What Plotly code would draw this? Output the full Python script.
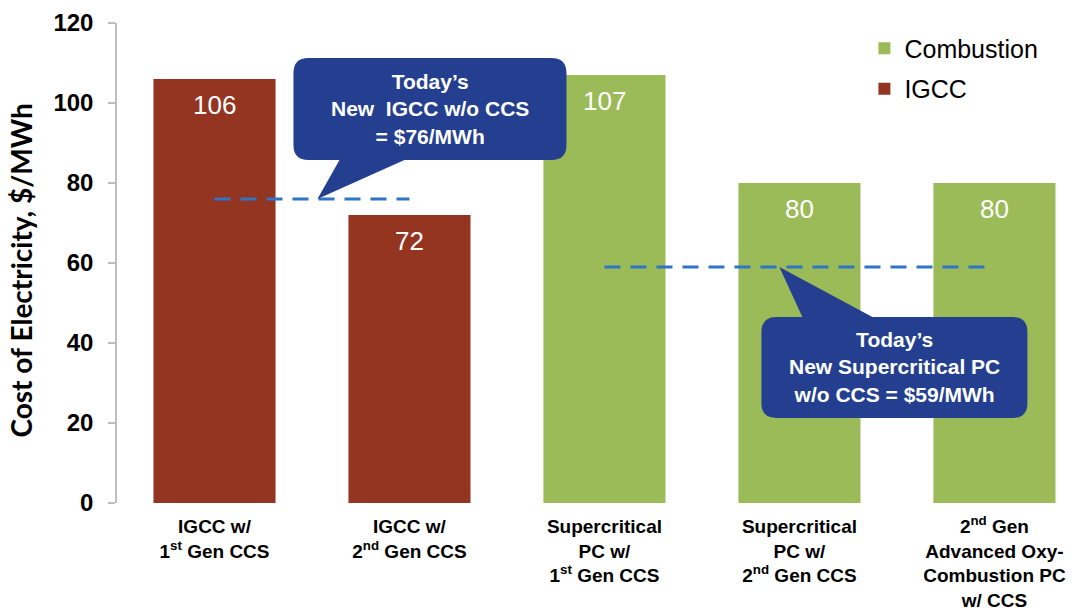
import plotly.graph_objects as go

# Cost of electricity by technology ($/MWh)
categories = [
    "IGCC w/<br>1<sup>st</sup> Gen CCS",
    "IGCC w/<br>2<sup>nd</sup> Gen CCS",
    "Supercritical<br>PC w/<br>1<sup>st</sup> Gen CCS",
    "Supercritical<br>PC w/<br>2<sup>nd</sup> Gen CCS",
    "2<sup>nd</sup> Gen<br>Advanced Oxy-<br>Combustion PC<br>w/ CCS",
]
igcc_pos = [0, 1]
igcc_values = [106, 72]
comb_pos = [2, 3, 4]
comb_values = [107, 80, 80]

# Reference costs for today's plants without capture
igcc_ref = 76
pc_ref = 59

IGCC_COLOR = "#943522"
COMB_COLOR = "#9bbb59"
CALLOUT = "#243f8f"
REF_LINE = "#2e75c6"
FONT = "Liberation Sans, Arial, sans-serif"
TITLE_FONT = "Lato, Open Sans, sans-serif"

BAR_W = 0.626

fig = go.Figure()
fig.add_trace(go.Bar(x=comb_pos, y=comb_values, name="Combustion", width=BAR_W,
                     marker=dict(color=COMB_COLOR, line=dict(width=0)),
                     legendgroup="c"))
fig.add_trace(go.Bar(x=igcc_pos, y=igcc_values, name="IGCC", width=BAR_W,
                     marker=dict(color=IGCC_COLOR, line=dict(width=0)),
                     legendgroup="i"))

# value labels near the top of each bar
annotations = []
for xs, vs in ((igcc_pos, igcc_values), (comb_pos, comb_values)):
    for xv, v in zip(xs, vs):
        annotations.append(dict(x=xv, y=v, text=str(v), showarrow=False,
                                yshift=-26, font=dict(family=FONT, size=26, color="white")))

shapes = []
# dashed reference lines
shapes.append(dict(type="line", x0=igcc_pos[0], x1=igcc_pos[-1], y0=igcc_ref, y1=igcc_ref,
                   xref="x", yref="y", line=dict(color=REF_LINE, width=3, dash="16px,10px")))
shapes.append(dict(type="line", x0=comb_pos[0], x1=comb_pos[-1], y0=pc_ref, y1=pc_ref,
                   xref="x", yref="y", line=dict(color=REF_LINE, width=3, dash="16px,10px")))

# pixel scale of the axes, used to keep the callout corners round
PX_X = 195.0
PX_Y = 4.0


def callout(x0, x1, y0, y1, b0, b1, tx, ty, r=15):
    """Rounded box (x0..x1, y0..y1 with y1 > y0) with a pointer from the
    bottom edge (b0..b1) when the tip is below, or top edge when above."""
    rx, ry = r / PX_X, r / PX_Y
    below = ty < y0
    p = [f"M{x0 + rx},{y1}"]
    if not below:
        p.append(f"L{b0},{y1} L{tx},{ty} L{b1},{y1}")
    p.append(f"L{x1 - rx},{y1} Q{x1},{y1} {x1},{y1 - ry}")
    p.append(f"L{x1},{y0 + ry} Q{x1},{y0} {x1 - rx},{y0}")
    if below:
        p.append(f"L{b1},{y0} L{tx},{ty} L{b0},{y0}")
    p.append(f"L{x0 + rx},{y0} Q{x0},{y0} {x0},{y0 + ry}")
    p.append(f"L{x0},{y1 - ry} Q{x0},{y1} {x0 + rx},{y1} Z")
    return dict(type="path", path=" ".join(p), xref="x", yref="y",
                fillcolor=CALLOUT, line=dict(width=0))


shapes.append(callout(0.405, 1.805, 85.75, 111.25, 0.641, 0.974, 0.528, igcc_ref))
shapes.append(callout(2.805, 4.169, 21.25, 46.5, 3.015, 3.374, 2.897, pc_ref))

annotations.append(dict(x=1.105, y=98.5, text="Today’s<br>New  IGCC w/o CCS<br>= $76/MWh",
                        showarrow=False, font=dict(family=FONT, size=21, color="white", weight="bold")))
annotations.append(dict(x=3.487, y=34, text="Today’s<br>New Supercritical PC<br>w/o CCS = $59/MWh",
                        showarrow=False, font=dict(family=FONT, size=21, color="white", weight="bold")))

# vertical axis title
annotations.append(dict(xref="paper", yref="paper", x=-0.1, y=0.485, textangle=-90,
                        text="Cost of Electricity, $/MWh", showarrow=False,
                        xanchor="center", yanchor="middle",
                        font=dict(family=TITLE_FONT, size=28, color="black", weight="bold")))

fig.update_layout(
    width=1074, height=610,
    margin=dict(l=117, r=0, t=23, b=107),
    paper_bgcolor="white", plot_bgcolor="white",
    barmode="overlay",
    showlegend=True,
    legend=dict(x=0.781, y=0.995, xanchor="left", yanchor="top",
                font=dict(family=FONT, size=25, color="black"),
                tracegroupgap=5, bgcolor="rgba(0,0,0,0)"),
    shapes=shapes,
    annotations=annotations,
    font=dict(family=FONT),
)
fig.update_xaxes(range=[-0.5, 4.408], tickvals=list(range(len(categories))), ticktext=categories,
                 showline=False, showgrid=False, zeroline=False, ticks="",
                 ticklabelstandoff=10, automargin=False,
                 tickfont=dict(family=FONT, size=19, color="black", weight="bold"))
fig.update_yaxes(range=[0, 120], dtick=20, showgrid=False, zeroline=False,
                 showline=True, linecolor="#bfbfbf", linewidth=1.5,
                 ticks="outside", ticklen=7, tickcolor="#bfbfbf", tickwidth=1.5,
                 ticklabelstandoff=10, automargin=False,
                 tickfont=dict(family=FONT, size=24, color="black", weight="bold"))

fig.write_html("out.html")
